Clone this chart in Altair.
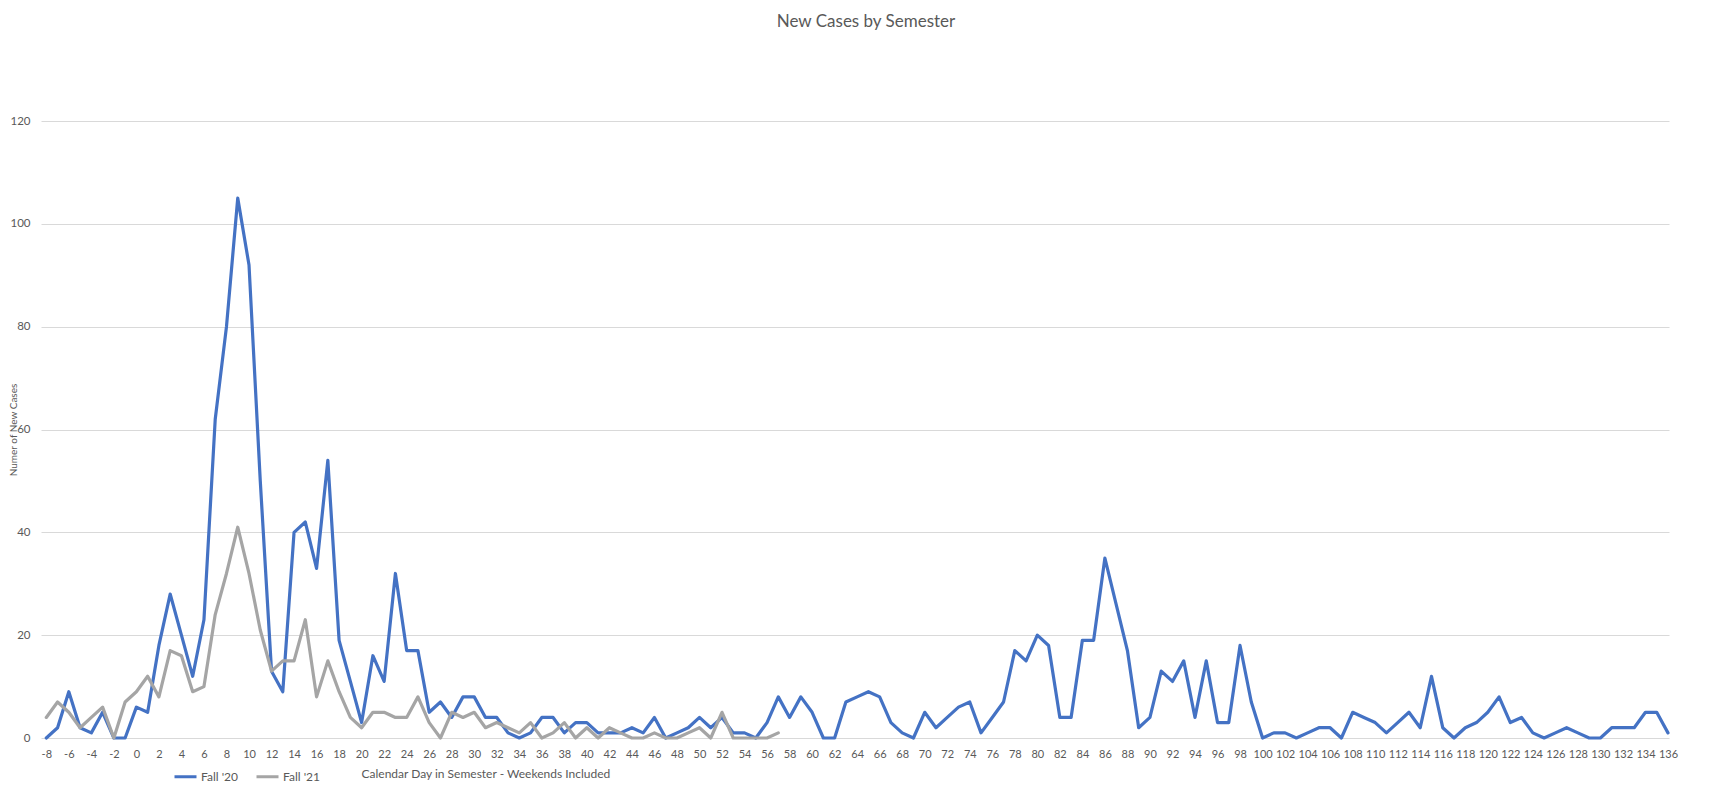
import altair as alt
import pandas as pd

# ---- data ----
series_names = ["Fall '20", "Fall '21"]
series_colors = ["#4472C4", "#A5A5A5"]

days_fall20 = list(range(-8, 137))
cases_fall20 = [
    0, 2, 9, 2, 1, 5, 0, 0,
    6, 5, 18, 28, 20, 12, 23, 62, 80, 105,
    92, 50, 13, 9, 40, 42, 33, 54, 19, 11,
    3, 16, 11, 32, 17, 17, 5, 7, 4, 8,
    8, 4, 4, 1, 0, 1, 4, 4, 1, 3,
    3, 1, 1, 1, 2, 1, 4, 0, 1, 2,
    4, 2, 4, 1, 1, 0, 3, 8, 4, 8,
    5, 0, 0, 7, 8, 9, 8, 3, 1, 0,
    5, 2, 4, 6, 7, 1, 4, 7, 17, 15,
    20, 18, 4, 4, 19, 19, 35, 26, 17, 2,
    4, 13, 11, 15, 4, 15, 3, 3, 18, 7,
    0, 1, 1, 0, 1, 2, 2, 0, 5, 4,
    3, 1, 3, 5, 2, 12, 2, 0, 2, 3,
    5, 8, 3, 4, 1, 0, 1, 2, 1, 0,
    0, 2, 2, 2, 5, 5, 1,
]

days_fall21 = list(range(-8, 58))
cases_fall21 = [
    4, 7, 5, 2, 4, 6, 0, 7,
    9, 12, 8, 17, 16, 9, 10, 24, 32, 41,
    32, 21, 13, 15, 15, 23, 8, 15, 9, 4,
    2, 5, 5, 4, 4, 8, 3, 0, 5, 4,
    5, 2, 3, 2, 1, 3, 0, 1, 3, 0,
    2, 0, 2, 1, 0, 0, 1, 0, 0, 1,
    2, 0, 5, 0, 0, 0, 0, 1,
]

x_tick_values = list(range(-8, 137, 2))
y_tick_values = [0, 20, 40, 60, 80, 100, 120]

assert len(days_fall20) == len(cases_fall20)
assert len(days_fall21) == len(cases_fall21)

df = pd.concat([
    pd.DataFrame({"day": days_fall20, "cases": cases_fall20, "series": series_names[0]}),
    pd.DataFrame({"day": days_fall21, "cases": cases_fall21, "series": series_names[1]}),
], ignore_index=True)

W = 1628
H = 617
TXT = "#595959"
FONT = "Lato"

x_enc = alt.X(
    "day:Q",
    scale=alt.Scale(domain=[-8.47, 136.09], nice=False, zero=False),
    axis=alt.Axis(
        values=x_tick_values,
        labelExpr="datum.value < 0 ? '-' + abs(datum.value) : '' + datum.value",
        grid=False, domain=False, ticks=False,
        labelPadding=10, labelFontSize=11, labelColor=TXT, labelFont=FONT,
        labelOverlap=False, labelFlush=False,
        title="Calendar Day in Semester  - Weekends Included",
        titleFont=FONT, titleFontSize=12, titleFontWeight="normal", titleColor=TXT,
        titleX=320, titleY=35, titleAlign="left", titleBaseline="middle",
    ),
)

y_enc = alt.Y(
    "cases:Q",
    scale=alt.Scale(domain=[0, 120], nice=False),
    axis=alt.Axis(
        values=y_tick_values,
        grid=True, gridColor="#D9D9D9", gridWidth=1,
        domain=False, ticks=False,
        labelPadding=11, labelFontSize=11.5, labelColor=TXT, labelFont=FONT,
        title="Numer of New Cases",
        titleFont=FONT, titleFontSize=10, titleFontWeight="normal", titleColor=TXT,
        titleX=-27.5, titleY=H / 2, titleAlign="center", titleBaseline="middle",
    ),
)

color_enc = alt.Color(
    "series:N",
    scale=alt.Scale(domain=series_names, range=series_colors),
    legend=alt.Legend(
        orient="none", legendX=132, legendY=643, direction="horizontal",
        title=None, symbolType="stroke", symbolStrokeWidth=3, symbolSize=484,
        labelFont=FONT, labelFontSize=12, labelColor=TXT,
        columnPadding=11, labelOffset=3,
    ),
)

base = alt.Chart(df).mark_line(strokeWidth=3.2, strokeJoin="round", strokeCap="round")

layer20 = base.transform_filter(alt.datum.series == series_names[0]).encode(x=x_enc, y=y_enc, color=color_enc)
layer21 = base.transform_filter(alt.datum.series == series_names[1]).encode(x=x_enc, y=y_enc, color=color_enc)

chart = alt.layer(layer20, layer21).properties(
    width=W,
    height=H,
    title=alt.TitleParams(
        "New Cases by Semester", font=FONT, fontSize=17, fontWeight="normal",
        color=TXT, anchor="middle", dx=11, offset=84,
    ),
    autosize=alt.AutoSizeParams(type="none"),
    padding={"left": 33, "top": 113, "right": 32, "bottom": 58},
).configure(font=FONT).configure_view(stroke=None)

chart.save("out.html", embed_options={"renderer": "svg", "actions": False})
